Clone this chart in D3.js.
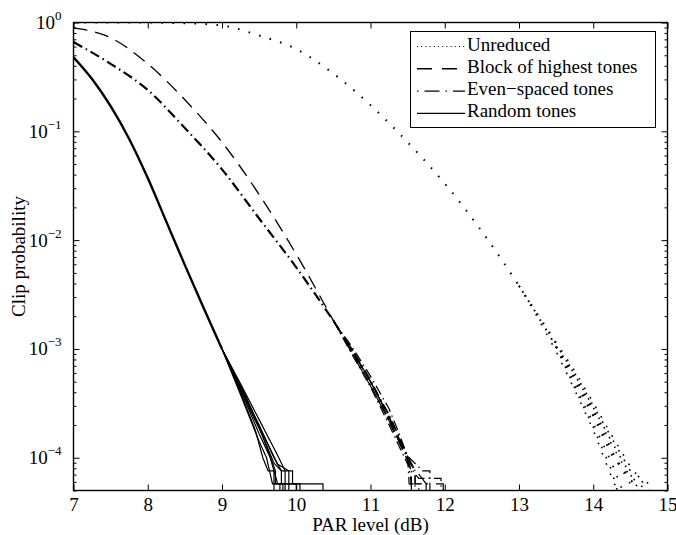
<!DOCTYPE html>
<html>
<head>
<meta charset="utf-8">
<script src="https://cdn.jsdelivr.net/npm/d3@7"></script>
<style>
  body { margin: 0; background: #fff; }
  text { font-family: "Liberation Serif", serif; fill: #000; }
</style>
</head>
<body>
<div id="chart"></div>
<script>
// ---------------------------------------------------------------------------
// Data: [PAR level (dB), clip probability]
// Each series has a shared upper part and per-trial tails that split off.
// ---------------------------------------------------------------------------
var unreducedMain = [[7, 1.0], [7.5, 0.9999], [8, 0.998], [8.5, 0.985], [9, 0.938], [9.5, 0.759],
  [10, 0.569], [10.5, 0.339], [11, 0.174], [11.5, 0.0794], [12, 0.0331], [12.5, 0.012],
  [13, 3.8e-3], [13.5, 1.05e-3]];
var unreducedTails = [
  [[13.5, 1.05e-3], [13.75, 5.25e-4], [14.0, 2.51e-4], [14.25, 1.12e-4], [14.5, 5.75e-5], [14.6, 3.2e-5]],
  [[13.5, 1.05e-3], [13.75, 6.03e-4], [14.0, 3.02e-4], [14.25, 1.51e-4], [14.5, 7.59e-5], [14.75, 5.75e-5], [14.8, 3.2e-5]],
  [[13.5, 1.05e-3], [13.75, 4.68e-4], [14.0, 2.09e-4], [14.25, 8.91e-5], [14.45, 4.0e-5]],
  [[13.5, 1.05e-3], [13.75, 5.62e-4], [14.0, 2.82e-4], [14.25, 1.32e-4], [14.5, 6.61e-5], [14.65, 5.75e-5], [14.7, 3.2e-5]],
  [[13.5, 1.05e-3], [13.75, 4.37e-4], [14.0, 1.91e-4], [14.25, 7.59e-5], [14.4, 3.2e-5]],
  [[13.5, 1.05e-3], [13.75, 5.01e-4], [14.0, 2.40e-4], [14.25, 1.05e-4], [14.55, 5.75e-5], [14.6, 3.2e-5]],
  [[13.5, 1.05e-3], [13.75, 5.5e-4], [14.0, 2.7e-4], [14.3, 1.0e-4], [14.6, 5.0e-5], [14.65, 3.2e-5]],
  [[13.0, 3.8e-3], [13.25, 2.1e-3], [13.5, 1.15e-3], [13.75, 6.3e-4], [14.0, 3.2e-4], [14.25, 1.6e-4], [14.5, 8.3e-5], [14.75, 5.0e-5]],
  [[13.0, 3.8e-3], [13.25, 1.95e-3], [13.5, 9.5e-4], [13.75, 4.2e-4], [14.0, 1.8e-4], [14.2, 8.0e-5], [14.35, 4.5e-5]],
  [[13.0, 3.8e-3], [13.25, 2.05e-3], [13.5, 1.1e-3], [13.75, 5.8e-4], [14.0, 2.9e-4], [14.25, 1.4e-4], [14.5, 7.0e-5], [14.7, 4.0e-5]]
];

var blockMain = [[7, 0.891], [7.5, 0.724], [8, 0.417], [8.5, 0.195], [9, 0.0794], [9.5, 0.0263],
  [10, 7.41e-3], [10.5, 1.82e-3]];
var blockTails = [
  [[10.5, 1.82e-3], [10.75, 9.12e-4], [11, 4.57e-4], [11.25, 2.19e-4], [11.5, 9.55e-5], [11.6, 7.59e-5], [11.6, 5.75e-5], [11.7, 5.75e-5], [11.7, 2.5e-5]],
  [[10.5, 1.82e-3], [10.75, 1.0e-3], [11, 5.01e-4], [11.3, 2.0e-4], [11.55, 8.71e-5], [11.75, 5.75e-5], [11.98, 5.75e-5], [11.98, 2.5e-5]],
  [[10.5, 1.82e-3], [10.75, 9.55e-4], [11, 5.01e-4], [11.25, 2.4e-4], [11.45, 1.12e-4], [11.55, 7.59e-5], [11.55, 2.5e-5]]
];

var evenMain = [[7, 0.661], [7.5, 0.417], [8, 0.240], [8.5, 0.107], [9, 0.0447], [9.5, 0.0158],
  [10, 5.62e-3], [10.5, 1.82e-3]];
var evenTails = [
  [[10.5, 1.82e-3], [10.75, 9.55e-4], [11, 5.01e-4], [11.25, 2.51e-4], [11.5, 1.05e-4], [11.6, 7.59e-5], [11.6, 5.75e-5], [11.75, 5.75e-5], [11.75, 2.5e-5]],
  [[10.5, 1.82e-3], [10.75, 1.0e-3], [11, 5.25e-4], [11.25, 2.4e-4], [11.45, 1.26e-4], [11.55, 7.59e-5], [11.55, 2.5e-5]],
  [[10.5, 1.82e-3], [10.75, 8.91e-4], [11, 4.47e-4], [11.25, 2.0e-4], [11.5, 8.71e-5], [11.65, 6.46e-5], [11.95, 6.46e-5], [11.95, 2.5e-5]],
  [[10.5, 1.82e-3], [10.75, 1.05e-3], [11, 5.62e-4], [11.25, 2.82e-4], [11.4, 1.58e-4], [11.5, 1.0e-4], [11.55, 5.75e-5], [11.65, 5.75e-5], [11.65, 2.5e-5]],
  [[10.5, 1.82e-3], [10.75, 9.33e-4], [11, 4.68e-4], [11.2, 2.51e-4], [11.45, 1.12e-4], [11.7, 7.59e-5], [11.8, 7.59e-5], [11.8, 2.5e-5]],
  [[10.5, 1.82e-3], [10.75, 1.0e-3], [11, 5.01e-4], [11.3, 1.91e-4], [11.5, 1.0e-4], [11.52, 5.75e-5], [11.6, 5.75e-5], [11.6, 2.5e-5]]
];

var randomMain = [[7, 0.479], [7.25, 0.302], [7.5, 0.170], [7.75, 0.0851], [8, 0.0372], [8.25, 0.0148],
  [8.5, 5.89e-3], [8.75, 2.40e-3], [9, 1.0e-3]];
var randomTails = [
  [[9, 1.0e-3], [9.25, 4.17e-4], [9.5, 1.66e-4], [9.65, 1.0e-4], [9.75, 5.75e-5], [10.36, 5.75e-5], [10.36, 2.5e-5]],
  [[9, 1.0e-3], [9.25, 4.47e-4], [9.5, 2.0e-4], [9.7, 1.0e-4], [9.8, 7.59e-5], [9.95, 7.59e-5], [9.95, 5.75e-5], [10.05, 5.75e-5], [10.05, 2.5e-5]],
  [[9, 1.0e-3], [9.25, 4.79e-4], [9.5, 2.24e-4], [9.75, 1.05e-4], [9.85, 7.59e-5], [9.85, 5.75e-5], [9.9, 5.75e-5], [9.9, 2.5e-5]],
  [[9, 1.0e-3], [9.25, 3.8e-4], [9.5, 1.41e-4], [9.6, 1.0e-4], [9.68, 5.75e-5], [9.78, 5.75e-5], [9.78, 2.5e-5]],
  [[9, 1.0e-3], [9.25, 3.98e-4], [9.45, 1.78e-4], [9.55, 1.0e-4], [9.62, 7.59e-5], [9.7, 7.59e-5], [9.7, 2.5e-5]],
  [[9, 1.0e-3], [9.3, 3.55e-4], [9.55, 1.58e-4], [9.7, 8.91e-5], [9.8, 7.59e-5], [9.8, 5.75e-5], [9.85, 5.75e-5], [9.85, 2.5e-5]],
  [[9, 1.0e-3], [9.25, 4.37e-4], [9.55, 1.66e-4], [9.75, 8.71e-5], [9.9, 7.59e-5], [9.9, 5.75e-5], [10.0, 5.75e-5], [10.0, 2.5e-5]],
  [[9, 1.0e-3], [9.3, 3.98e-4], [9.5, 1.91e-4], [9.72, 7.59e-5], [9.72, 5.75e-5], [9.82, 5.75e-5], [9.82, 2.5e-5]]
];

var legendLabels = ["Unreduced", "Block of highest tones", "Even\u2212spaced tones", "Random tones"];
var xTicks = [7, 8, 9, 10, 11, 12, 13, 14, 15];
var yDecades = [0, -1, -2, -3, -4];

(function() {

// ---------------------------------------------------------------------------
// Set up
// ---------------------------------------------------------------------------
var width = 676,
    height = 535,
    plotL = 73.5, plotR = 667.5,
    plotT = 22.5, plotB = 490.5,
    fontSize = "19px";

var svg = d3.select("#chart")
  .append("svg")
    .attr("width", width)
    .attr("height", height);

var x = d3.scaleLinear().domain([7, 15]).range([plotL, plotR]);
var y = d3.scaleLog().domain([5e-5, 1]).range([plotB, plotT]);

svg.append("defs").append("clipPath")
    .attr("id", "plot-clip")
  .append("rect")
    .attr("x", plotL).attr("y", plotT)
    .attr("width", plotR - plotL).attr("height", plotB - plotT);

// line styles per series
var styles = [
  { main: unreducedMain, tails: unreducedTails, dash: "1.6,9.4", w: 2, tw: 1.6, legendDash: "1,3.2" },
  { main: blockMain, tails: blockTails, dash: "14,8", w: 1.3, tw: 1.2, legendDash: "15,10" },
  { main: evenMain, tails: evenTails, dash: "10,4,1.5,4", w: 2.2, tw: 1.2, legendDash: "1.5,6,15,6" },
  { main: randomMain, tails: randomTails, dash: null, w: 2.4, tw: 1.2, legendDash: null }
];

var smoothLine = d3.line()
  .x(d => x(d[0]))
  .y(d => y(d[1]))
  .curve(d3.curveMonotoneX);

var stepLine = d3.line()
  .x(d => x(d[0]))
  .y(d => y(d[1]));

var curves = svg.append("g").attr("clip-path", "url(#plot-clip)");

styles.forEach(function(s) {
  var g = curves.append("g")
    .attr("fill", "none")
    .attr("stroke", "#000")
    .attr("stroke-dasharray", s.dash);

  g.selectAll("path.tail")
    .data(s.tails)
    .enter()
    .append("path")
      .attr("class", "tail")
      .attr("d", stepLine)
      .attr("stroke-width", s.tw);

  g.append("path")
    .attr("d", smoothLine(s.main))
    .attr("stroke-width", s.w);
});

// ---------------------------------------------------------------------------
// Axes (inward ticks on all four sides)
// ---------------------------------------------------------------------------
svg.append("g")
  .attr("transform", "translate(0," + plotB + ")")
  .call(d3.axisBottom(x).tickValues(xTicks).tickSizeInner(-6).tickSizeOuter(0).tickPadding(7))
  .call(g => g.select(".domain").remove())
  .call(g => g.selectAll("text").style("font-size", fontSize).attr("font-family", "Liberation Serif"));

svg.append("g")
  .attr("transform", "translate(0," + plotT + ")")
  .call(d3.axisTop(x).tickValues(xTicks).tickSizeInner(-6).tickSizeOuter(0).tickFormat(""))
  .call(g => g.select(".domain").remove());

var majorTicks = yDecades.map(e => Math.pow(10, e));
var minorTicks = y.ticks().filter(v => majorTicks.every(m => Math.abs(v / m - 1) > 1e-6) && v >= 5e-5);

[[d3.axisLeft, plotL], [d3.axisRight, plotR]].forEach(function(a) {
  svg.append("g")
    .attr("transform", "translate(" + a[1] + ",0)")
    .call(a[0](y).tickValues(majorTicks).tickSizeInner(-6).tickSizeOuter(0).tickFormat(""))
    .call(g => g.select(".domain").remove());
  svg.append("g")
    .attr("transform", "translate(" + a[1] + ",0)")
    .call(a[0](y).tickValues(minorTicks).tickSizeInner(-3).tickSizeOuter(0).tickFormat(""))
    .call(g => g.select(".domain").remove());
});

// y tick labels 10^k
var yLabels = svg.append("g")
  .selectAll("text")
  .data(yDecades)
  .enter()
  .append("text")
    .attr("x", plotL - 12)
    .attr("y", d => y(Math.pow(10, d)) + 6.5)
    .attr("text-anchor", "end")
    .style("font-size", fontSize);

yLabels.append("tspan").text("10");
yLabels.append("tspan")
  .attr("dy", -9)
  .style("font-size", "13px")
  .text(d => d === 0 ? "0" : "\u2212" + (-d));

// frame
svg.append("rect")
  .attr("x", plotL).attr("y", plotT)
  .attr("width", plotR - plotL).attr("height", plotB - plotT)
  .attr("fill", "none")
  .attr("stroke", "#000")
  .attr("stroke-width", 1.4);

// axis titles
svg.append("text")
  .attr("x", (plotL + plotR) / 2)
  .attr("y", 531)
  .attr("text-anchor", "middle")
  .style("font-size", fontSize)
  .text("PAR level (dB)");

svg.append("text")
  .attr("transform", "translate(25," + (plotT + plotB) / 2 + ") rotate(-90)")
  .attr("text-anchor", "middle")
  .style("font-size", fontSize)
  .text("Clip probability");

// ---------------------------------------------------------------------------
// Legend
// ---------------------------------------------------------------------------
var legend = svg.append("g");

legend.append("rect")
  .attr("x", 410.5).attr("y", 31.5)
  .attr("width", 245).attr("height", 96)
  .attr("fill", "#fff")
  .attr("stroke", "#000")
  .attr("stroke-width", 1);

var rows = legend.selectAll("g.row")
  .data(legendLabels)
  .enter()
  .append("g")
    .attr("class", "row")
    .attr("transform", (d, i) => "translate(0," + (46.5 + i * 22.3) + ")");

rows.append("line")
  .attr("x1", 417).attr("x2", 465)
  .attr("y1", 0).attr("y2", 0)
  .attr("stroke", "#000")
  .attr("stroke-width", (d, i) => i === 0 ? 1 : 1.4)
  .attr("stroke-dasharray", (d, i) => styles[i].legendDash);

rows.append("text")
  .attr("x", 467)
  .attr("y", 4)
  .style("font-size", fontSize)
  .text(d => d);

})();
</script>
</body>
</html>
